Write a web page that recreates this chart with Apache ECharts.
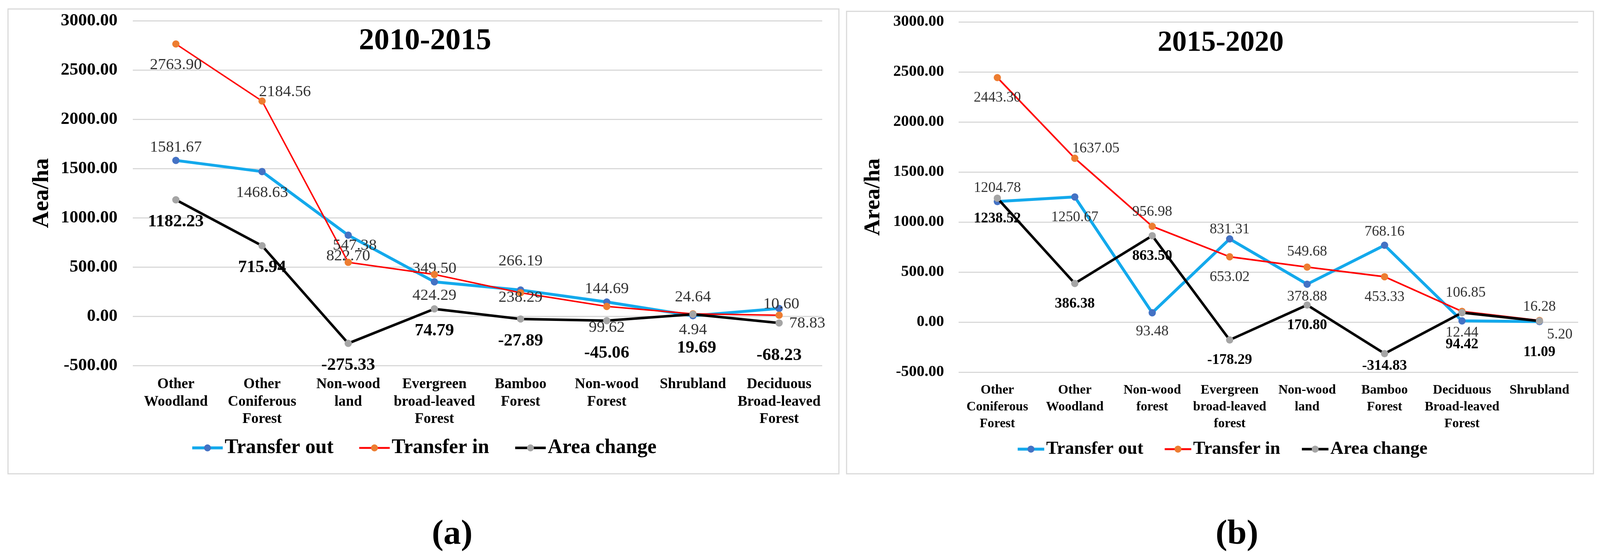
<!DOCTYPE html>
<html>
<head>
<meta charset="utf-8">
<script src="https://cdn.jsdelivr.net/npm/echarts@6/dist/echarts.min.js"></script>
<style>
html,body{margin:0;padding:0;background:#fff;overflow:hidden;}
#chart{position:absolute;left:0;top:0;}
</style>
</head>
<body>
<div id="chart"></div>
<script>
// ---------- data ----------
const categoriesA = ['Other Woodland','Other Coniferous Forest','Non-wood land','Evergreen broad-leaved Forest','Bamboo Forest','Non-wood Forest','Shrubland','Deciduous Broad-leaved Forest'];
const transferOutA = [1581.67,1468.63,822.70,349.50,266.19,144.69,4.94,78.83];
const transferInA  = [2763.90,2184.56,547.38,424.29,238.29,99.62,24.64,10.60];
const areaChangeA  = [1182.23,715.94,-275.33,74.79,-27.89,-45.06,19.69,-68.23];

const categoriesB = ['Other Coniferous Forest','Other Woodland','Non-wood forest','Evergreen broad-leaved forest','Non-wood land','Bamboo Forest','Deciduous Broad-leaved Forest','Shrubland'];
const transferOutB = [1204.78,1250.67,93.48,831.31,378.88,768.16,12.44,5.20];
const transferInB  = [2443.30,1637.05,956.98,653.02,549.68,453.33,106.85,16.28];
const areaChangeB  = [1238.52,386.38,863.50,-178.29,170.80,-314.83,94.42,11.09];

const yMin = -500, yMax = 3000, yStep = 500;
const seriesNames = ['Transfer out','Transfer in','Area change'];
const titleA = '2010-2015', titleB = '2015-2020';
const yNameA = 'Aea/ha', yNameB = 'Area/ha';
const panelTags = ['(a)','(b)'];

// ---------- sizing (fit the 4398x1430 design into the actual viewport) ----------
const W = window.innerWidth || 4398, H = window.innerHeight || 1430;
const sx = W/4398, sy = H/1430, sf = Math.min(sx, sy);
const X = v => v*sx, Y = v => v*sy, F = v => v*sf;
const el = document.getElementById('chart');
el.style.width = W + 'px'; el.style.height = H + 'px';

// ---------- label layout (style only) ----------
const B0 = ['bottom',0,0], T0 = ['top',0,0];
const layoutA = {
  out: [T0, B0, B0, T0, ['top',0,-40], T0, ['bottom',0,-18], ['right',13,38]],
  inn: [B0, ['top',63,10], ['top',18,-9], B0, ['bottom',0,-42], B0, ['top',0,-9], ['top',6,5]],
  chg: [B0, B0, B0, B0, B0, ['bottom',0,27], ['bottom',10,30], ['bottom',0,27]]
};
const layoutB = {
  out: [T0, B0, ['bottom',0,-4], ['top',0,10], ['bottom',0,-20], T0, ['bottom',0,-22], ['right',6,34]],
  inn: [B0, ['top',58,10], ['top',0,-2], B0, ['top',0,-5], B0, ['top',10,-13], T0],
  chg: [B0, B0, B0, B0, B0, ['bottom',0,-20], ['bottom',0,30], ['bottom',0,28]]
};

const FONT = "'Liberation Serif','Times New Roman',serif";
const C = {
  outLine:'#13A9EC', outDot:'#4472C4',
  inLine:'#FF0000', inDot:'#ED7D31',
  chgLine:'#000000', chgDot:'#A5A5A5'
};

function mkData(values, layout, opt){
  return values.map((v,i)=>{
    const L = layout[i];
    const pos = L[0];
    const dist = pos==='top' ? opt.topDist : (pos==='bottom' ? opt.botDist : 5);
    return {value:v, label:{position:pos, distance:F(dist), offset:[X(L[1]),Y(L[2])]}};
  });
}

function panelSeries(idx, out, inn, chg, layout, sz){
  const common = {type:'line', xAxisIndex:idx, yAxisIndex:idx, symbol:'circle', symbolSize:F(20), animation:false, z:2};
  const lab = (bold)=>({show:true, fontFamily:FONT, fontSize: F(bold ? sz.bold : sz.reg), fontWeight: bold?'bold':'normal',
     color: bold ? '#000' : '#333', formatter:(p)=>p.value.toFixed(2)});
  return [
    Object.assign({}, common, {name:seriesNames[0], data:mkData(out, layout.out, sz),
      lineStyle:{color:C.outLine, width:F(sz.outW)}, itemStyle:{color:C.outDot}, label:lab(false)}),
    Object.assign({}, common, {name:seriesNames[1], data:mkData(inn, layout.inn, sz),
      lineStyle:{color:C.inLine, width:F(sz.inW)}, itemStyle:{color:C.inDot}, label:lab(false), z:3}),
    Object.assign({}, common, {name:seriesNames[2], data:mkData(chg, layout.chg, sz),
      lineStyle:{color:C.chgLine, width:F(sz.chgW)}, itemStyle:{color:C.chgDot}, label:lab(true), z:4})
  ];
}

const szA = {reg:44, bold:48, topDist:4, botDist:26, outW:8, inW:4, chgW:7};
const szB = {reg:40, bold:40, topDist:7, botDist:26, outW:8, inW:4.5, chgW:7};

function yAxis(idx, name, fs, gap, nameFs, margin){
  return {type:'value', gridIndex:idx, min:yMin, max:yMax, interval:yStep,
    name:name, nameLocation:'middle', nameRotate:90, nameGap:X(gap),
    nameTextStyle:{fontFamily:FONT, fontWeight:'bold', fontSize:F(nameFs), color:'#000'},
    axisLine:{show:false}, axisTick:{show:false},
    axisLabel:{fontFamily:FONT, fontWeight:'bold', fontSize:F(fs), color:'#000', margin:X(margin),
      formatter:(v)=>v.toFixed(2)},
    splitLine:{lineStyle:{color:'#D9D9D9', width:F(3)}}};
}
function xAxis(idx, cats, fs, lh, margin){
  return {type:'category', gridIndex:idx, data:cats, boundaryGap:true,
    axisLine:{show:false}, axisTick:{show:false},
    axisLabel:{interval:0, fontFamily:FONT, fontWeight:'bold', fontSize:F(fs), lineHeight:F(lh), color:'#000', margin:Y(margin),
      formatter:(s)=>s.split(' ').join('\n')}};
}
function legendData(sz){
  const lines = [[C.outLine,C.outDot,sz.outW],[C.inLine,C.inDot,sz.inW+1],[C.chgLine,C.chgDot,sz.chgW]];
  return seriesNames.map((n,i)=>({name:n, lineStyle:{color:lines[i][0], width:F(lines[i][2])}, itemStyle:{color:lines[i][1]}}));
}

const chart = echarts.init(el, null, {renderer:'canvas', width:W, height:H});
const option = {
  backgroundColor:'#fff',
  animation:false,
  title:[
    {text:titleA, left:X(1163), top:Y(62), textAlign:'center', textStyle:{fontFamily:FONT, fontWeight:'bold', fontSize:F(84), color:'#000'}},
    {text:titleB, left:X(3350), top:Y(68), textAlign:'center', textStyle:{fontFamily:FONT, fontWeight:'bold', fontSize:F(80), color:'#000'}}
  ],
  grid:[
    {left:X(365), top:Y(53), width:X(1895), height:Y(882)},
    {left:X(2635), top:Y(56), width:X(1703), height:Y(896)}
  ],
  xAxis:[xAxis(0, categoriesA, 40, 48, 26), xAxis(1, categoriesB, 36, 46, 25)],
  yAxis:[yAxis(0, yNameA, 48, 217, 64, 42), yAxis(1, yNameB, 43, 203, 62, 40)],
  legend:[
    {data:legendData(szA), left:X(519), top:Y(1111), itemWidth:X(84), itemHeight:F(24), itemGap:X(68),
      textStyle:{fontFamily:FONT, fontWeight:'bold', fontSize:F(56), color:'#000', lineHeight:F(64)}},
    {data:legendData(szB), left:X(2788), top:Y(1116), itemWidth:X(73), itemHeight:F(24), itemGap:X(56),
      textStyle:{fontFamily:FONT, fontWeight:'bold', fontSize:F(50), color:'#000', lineHeight:F(60)}}
  ],
  graphic:[
    {type:'rect', shape:{x:X(22), y:Y(23), width:X(2284), height:Y(1189)}, style:{fill:'none', stroke:'#D9D9D9', lineWidth:F(3)}, silent:true, z:-10},
    {type:'rect', shape:{x:X(2327), y:Y(29), width:X(2053), height:Y(1183)}, style:{fill:'none', stroke:'#D9D9D9', lineWidth:F(3)}, silent:true, z:-10},
    {type:'text', x:X(1243), y:Y(1368), style:{text:panelTags[0], font:"bold "+F(96)+"px 'Liberation Serif', serif", fill:'#000', textAlign:'center', textVerticalAlign:'middle'}},
    {type:'text', x:X(3400), y:Y(1368), style:{text:panelTags[1], font:"bold "+F(96)+"px 'Liberation Serif', serif", fill:'#000', textAlign:'center', textVerticalAlign:'middle'}}
  ],
  series:[].concat(
    panelSeries(0, transferOutA, transferInA, areaChangeA, layoutA, szA),
    panelSeries(1, transferOutB, transferInB, areaChangeB, layoutB, szB)
  )
};
chart.setOption(option);
</script>
</body>
</html>
